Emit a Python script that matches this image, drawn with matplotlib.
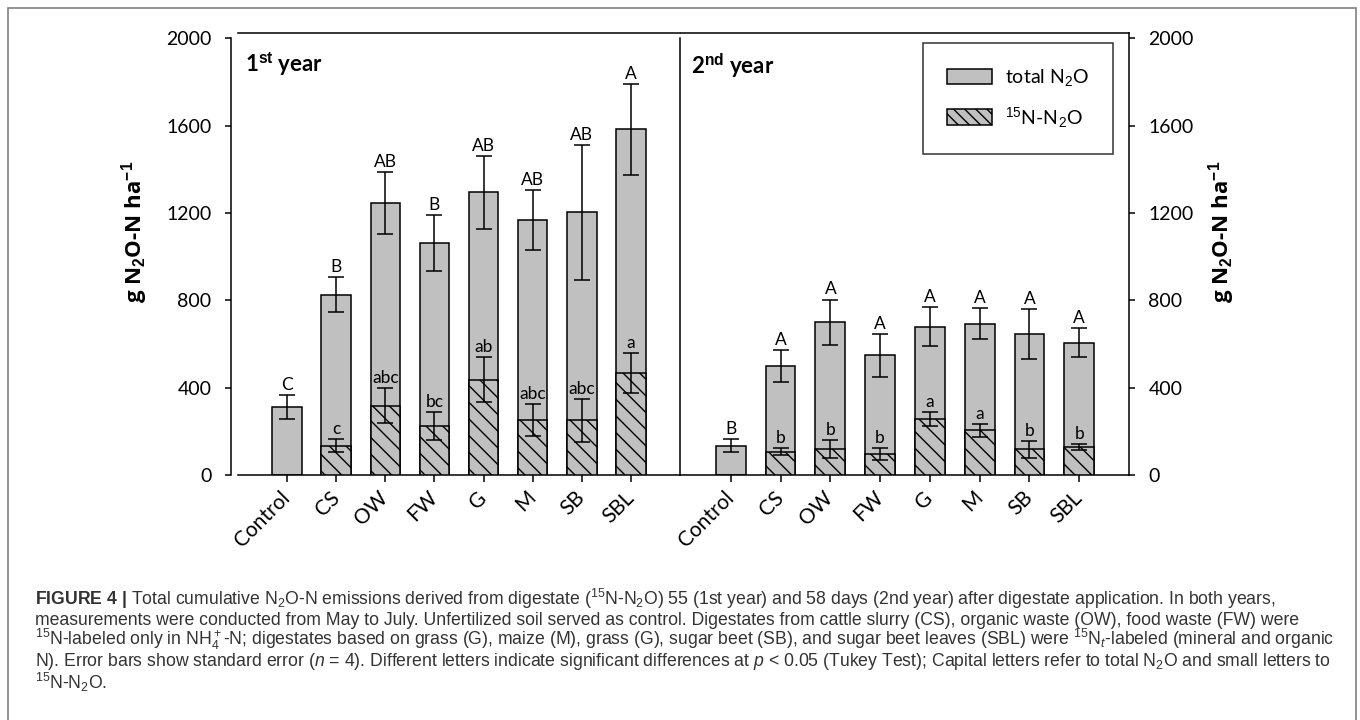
import numpy as np
import matplotlib
matplotlib.use('Agg')
import matplotlib.pyplot as plt
from matplotlib.patches import Patch, Rectangle

plt.rcParams['font.family'] = ['Lato', 'DejaVu Sans']
plt.rcParams['mathtext.fontset'] = 'custom'
plt.rcParams['mathtext.rm'] = 'Liberation Sans'
plt.rcParams['mathtext.it'] = 'Liberation Sans:italic'
plt.rcParams['mathtext.bf'] = 'Liberation Sans:bold'
plt.rcParams['hatch.linewidth'] = 1.0
plt.rcParams['hatch.color'] = 'black'

# treatments
categories = ['Control', 'CS', 'OW', 'FW', 'G', 'M', 'SB', 'SBL']

# 1st year, g N2O-N / ha
total_y1 = [313, 825, 1246, 1061, 1295, 1168, 1203, 1583]
total_y1_se = [55, 80, 142, 128, 168, 137, 309, 210]
n15_y1 = [np.nan, 134, 318, 225, 436, 251, 251, 466]
n15_y1_se = [np.nan, 30, 79, 63, 103, 73, 99, 92]
letters_total_y1 = ['C', 'B', 'AB', 'B', 'AB', 'AB', 'AB', 'A']
letters_n15_y1 = ['', 'c', 'abc', 'bc', 'ab', 'abc', 'abc', 'a']

# 2nd year
total_y2 = [134, 500, 700, 548, 680, 694, 647, 607]
total_y2_se = [29, 72, 104, 97, 88, 69, 115, 67]
n15_y2 = [np.nan, 107, 119, 96, 257, 205, 118, 128]
n15_y2_se = [np.nan, 16, 42, 29, 32, 29, 39, 12]
letters_total_y2 = ['B', 'A', 'A', 'A', 'A', 'A', 'A', 'A']
letters_n15_y2 = ['', 'b', 'b', 'b', 'a', 'a', 'b', 'b']

yticks = [0, 400, 800, 1200, 1600, 2000]

GRAY = '#c0c0c0'
LW = 1.1

W, H = 1360, 720
fig = plt.figure(figsize=(W / 100, H / 100), dpi=100)


def fx(px):
    return px / W


def fy(py):
    return 1 - py / H


ax1 = fig.add_axes([fx(238), fy(475), (680 - 238) / W, (475 - 33) / H])
ax2 = fig.add_axes([fx(681), fy(475), (1129 - 681) / W, (475 - 33) / H])


def draw_panel(ax, total, total_se, n15, n15_se, let_total, let_n15):
    x = np.arange(len(categories))
    total = np.array(total, float)
    total_se = np.array(total_se, float)
    n15 = np.array(n15, float)
    n15_se = np.array(n15_se, float)
    m = ~np.isnan(n15)

    ax.bar(x, total, width=0.6, color=GRAY, edgecolor='black', linewidth=LW, zorder=2)
    ax.errorbar(x, total, yerr=total_se, fmt='none', ecolor='black',
                elinewidth=LW, capsize=5.5, capthick=LW, zorder=4)
    ax.bar(x[m], n15[m], width=0.6, color=GRAY, edgecolor='black', hatch='\\\\',
           linewidth=LW, zorder=3)
    ax.errorbar(x[m], n15[m], yerr=n15_se[m], fmt='none', ecolor='black',
                elinewidth=LW, capsize=5.5, capthick=LW, zorder=4)

    for xi, yi, si, t in zip(x, total, total_se, let_total):
        ax.annotate(t, (xi, yi + si), xytext=(0, 1.5), textcoords='offset points',
                    ha='center', va='bottom', fontsize=12.5, zorder=5)
    for xi, yi, si, t in zip(x[m], n15[m], n15_se[m], np.array(let_n15)[m]):
        ax.annotate(t, (xi, yi + si), xytext=(0, 1.5), textcoords='offset points',
                    ha='center', va='bottom', fontsize=12.5, zorder=5)

    ax.set_xlim(-1, 8)
    ax.set_ylim(0, 2025)
    ax.set_yticks(yticks)
    ax.set_xticks(x)
    ax.set_xticklabels(categories, rotation=45, ha='right', va='center',
                       rotation_mode='anchor', fontsize=15)
    ax.tick_params(axis='x', direction='out', length=5, width=LW, pad=9)
    ax.tick_params(axis='y', direction='out', length=4, width=LW, labelsize=14, pad=10)
    for s in ax.spines.values():
        s.set_linewidth(LW)


draw_panel(ax1, total_y1, total_y1_se, n15_y1, n15_y1_se, letters_total_y1, letters_n15_y1)
draw_panel(ax2, total_y2, total_y2_se, n15_y2, n15_y2_se, letters_total_y2, letters_n15_y2)

ax1.spines['left'].set_position(('outward', 5))
ax1.spines['left'].set_bounds(0, 2000)
ax1.spines['right'].set_bounds(0, 2000)
ax2.spines['left'].set_visible(False)
ax2.yaxis.tick_right()

# axis titles
ylab = r'g N$_\mathbf{2}$O-N ha$^\mathbf{-1}$'
fig.text(fx(135), fy(232), ylab, rotation=90, ha='center', va='center',
         fontsize=16, fontweight='bold', family=['Open Sans', 'DejaVu Sans'])
fig.text(fx(1222), fy(232), ylab, rotation=90, ha='center', va='center',
         fontsize=16, fontweight='bold', family=['Open Sans', 'DejaVu Sans'])

fig.text(fx(245), fy(64), r'1$^{\mathbf{st}}$ year', ha='left', va='center',
         fontsize=16, fontweight='bold')
fig.text(fx(691), fy(66), r'2$^{\mathbf{nd}}$ year', ha='left', va='center',
         fontsize=16, fontweight='bold')

handles = [Patch(facecolor=GRAY, edgecolor='black', linewidth=LW, label='total N$_2$O'),
           Patch(facecolor=GRAY, edgecolor='black', linewidth=LW, hatch='\\\\\\',
                 label='$^{15}$N-N$_2$O')]
leg = ax2.legend(handles=handles, loc='upper right',
                 bbox_to_anchor=(fx(1113), fy(43)), bbox_transform=fig.transFigure,
                 fontsize=14, frameon=True, fancybox=False, edgecolor='black',
                 handlelength=2.3, handleheight=0.85, handletextpad=0.65,
                 labelspacing=0.85, borderpad=1.25, borderaxespad=0)
leg.get_frame().set_linewidth(LW)

# caption, one text per printed line
cap_lines = [
    r'$\bf{FIGURE\ 4\ |}$ Total cumulative N$_2$O-N emissions derived from digestate ($^{15}$N-N$_2$O) 55 (1st year) and 58 days (2nd year) after digestate application. In both years,',
    r'measurements were conducted from May to July. Unfertilized soil served as control. Digestates from cattle slurry (CS), organic waste (OW), food waste (FW) were',
    r'$^{15}$N-labeled only in NH$_4^+$-N; digestates based on grass (G), maize (M), grass (G), sugar beet (SB), and sugar beet leaves (SBL) were $^{15}$N$_t$-labeled (mineral and organic',
    r'N). Error bars show standard error ($n$ = 4). Different letters indicate significant differences at $p$ < 0.05 (Tukey Test); Capital letters refer to total N$_2$O and small letters to',
    r'$^{15}$N-N$_2$O.',
]
cap_base = [605, 625, 645.5, 666, 689]
for line, yb in zip(cap_lines, cap_base):
    fig.text(fx(35), fy(yb), line, ha='left', va='baseline', fontsize=12.7,
             family='Liberation Sans', color='#333333')

fig.patches.append(Rectangle((fx(8), fy(760)), (1356 - 8) / W, (760 - 8) / H,
                             transform=fig.transFigure, fill=False,
                             edgecolor='#808080', linewidth=1.2))

fig.savefig('out.png', dpi=100)
